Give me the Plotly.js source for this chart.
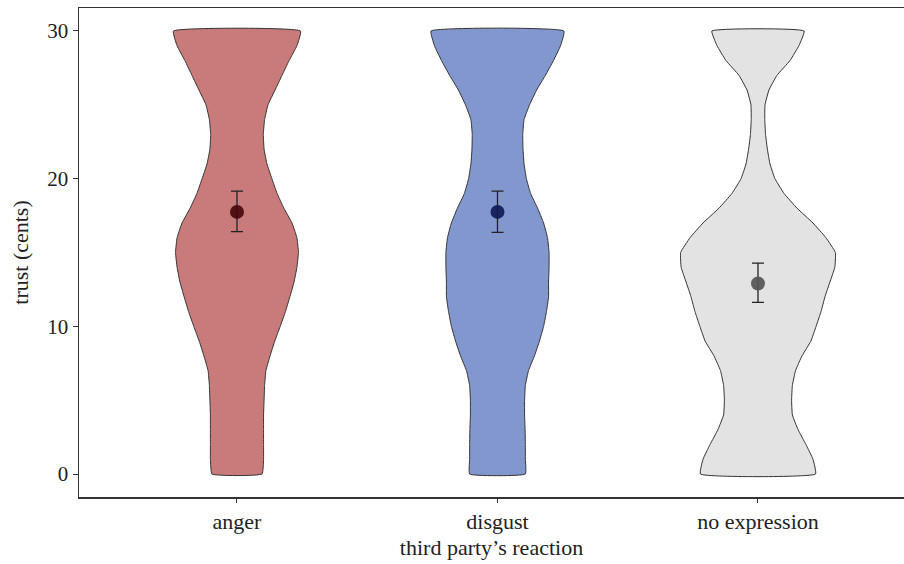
<!DOCTYPE html>
<html>
<head>
<meta charset="utf-8">
<script src="https://cdn.plot.ly/plotly-3.0.1.min.js"></script>
<style>html,body{margin:0;padding:0;background:#fff;}#chart{width:904px;height:564px;}</style>
</head>
<body>
<div id="chart"></div>
<script>
// Categories and tick labels
var categories = ["anger", "disgust", "no expression"];
var categoryPos = [1, 2, 3];
// Density evaluation levels (trust, cents)
var levels = [0,1,2,3,4,5,6,7,8,9,10,11,12,13,14,15,16,17,18,19,20,21,22,23,24,25,26,27,28,29,30];
// Violin half-widths (category units) at each level
var angerWidth = [0.096,0.102,0.102,0.102,0.102,0.104,0.106,0.111,0.127,0.145,0.166,0.186,0.203,0.219,0.230,0.236,0.230,0.211,0.180,0.154,0.134,0.115,0.104,0.101,0.106,0.119,0.146,0.173,0.200,0.230,0.244];
var disgustWidth = [0.107,0.107,0.107,0.106,0.104,0.104,0.107,0.119,0.142,0.161,0.177,0.188,0.196,0.196,0.198,0.198,0.192,0.177,0.154,0.127,0.111,0.102,0.098,0.097,0.102,0.123,0.150,0.184,0.215,0.242,0.255];
var noExprWidth = [0.221,0.211,0.184,0.154,0.132,0.129,0.132,0.144,0.169,0.203,0.223,0.242,0.257,0.276,0.295,0.297,0.261,0.211,0.150,0.100,0.065,0.046,0.036,0.029,0.026,0.027,0.042,0.073,0.123,0.157,0.177];
// Means and error bar bounds
var means = [17.75, 17.75, 12.9];
var upper = [19.15, 19.15, 14.28];
var lower = [16.42, 16.36, 11.62];

var widths = [angerWidth, disgustWidth, noExprWidth];
var fills = ["#c97b7b", "#8197cd", "#e3e3e3"];
var pointColors = ["rgba(70,8,12,0.92)", "rgba(16,26,88,0.92)", "rgba(85,85,85,0.92)"];

var traces = [];
for (var c = 0; c < categories.length; c++) {
  var xs = [], ys = [];
  var w = widths[c], cx = categoryPos[c];
  for (var i = 0; i < levels.length; i++) { xs.push(cx - w[i]); ys.push(levels[i]); }
  for (var j = levels.length - 1; j >= 0; j--) { xs.push(cx + w[j]); ys.push(levels[j]); }
  xs.push(xs[0]); ys.push(ys[0]);
  traces.push({
    type: "scatter", mode: "lines", x: xs, y: ys, fill: "toself",
    fillcolor: fills[c], line: {color: "#333", width: 1, shape: "spline", smoothing: 0.35},
    hoverinfo: "skip", showlegend: false
  });
}
for (var k = 0; k < categories.length; k++) {
  traces.push({
    type: "scatter", mode: "markers", x: [categoryPos[k]], y: [means[k]],
    marker: {color: pointColors[k], size: 14},
    error_y: {type: "data", symmetric: false, array: [upper[k] - means[k]], arrayminus: [means[k] - lower[k]],
              color: "#222", thickness: 1.3, width: 6},
    showlegend: false
  });
}

var layout = {
  width: 904, height: 564,
  margin: {l: 79, r: 0, t: 8, b: 67},
  paper_bgcolor: "#fff", plot_bgcolor: "#fff",
  font: {family: "Liberation Serif, Times New Roman, serif", color: "#222", size: 21},
  xaxis: {
    range: [0.3935, 3.5605], tickvals: categoryPos, ticktext: categories,
    showgrid: false, zeroline: false, showline: true, linecolor: "#333", linewidth: 1.5,
    mirror: true, ticks: "outside", ticklen: 4, tickcolor: "#333",
    tickfont: {size: 22, color: "#222"},
    title: {text: "third party’s reaction", font: {size: 22, color: "#222"}, standoff: 6}
  },
  yaxis: {
    range: [-1.557, 31.557], tickvals: [0, 10, 20, 30],
    showgrid: false, zeroline: false, showline: true, linecolor: "#333", linewidth: 1.5,
    ticks: "outside", ticklen: 5, tickcolor: "#333",
    tickfont: {size: 21, color: "#222"},
    title: {text: "trust (cents)", font: {size: 22, color: "#222"}, standoff: 12}
  }
};
Plotly.newPlot("chart", traces, layout, {displayModeBar: false, staticPlot: true});
</script>
</body>
</html>
